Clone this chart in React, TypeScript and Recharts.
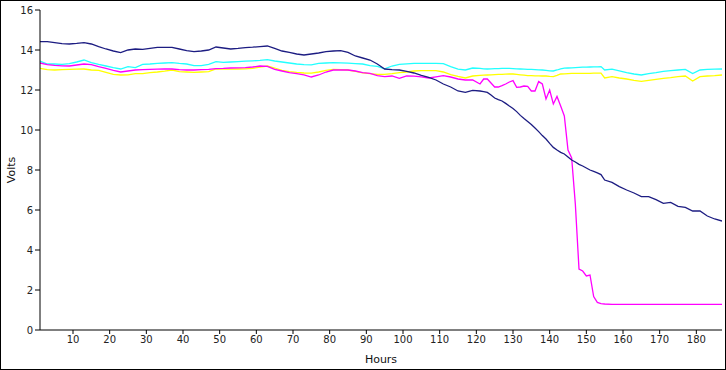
import { Line, LineChart, XAxis, YAxis } from "recharts";

const hours = [
  1, 3, 5, 7, 9, 11, 13, 15, 17, 19, 21, 23, 25, 27, 29, 31, 33, 35, 37, 39,
  41, 43, 45, 47, 49, 51, 53, 55, 57, 59, 61, 63, 65, 67, 69, 71, 73, 75, 77, 79,
  81, 83, 85, 87, 89, 91, 93, 95, 97, 99, 101, 103, 105, 107, 109, 111, 113, 115, 117, 119,
  121, 122, 123, 124, 125, 126, 127, 128, 129, 130, 131, 132, 133, 134, 135, 136, 137, 138,
  139, 140, 141, 142, 143, 144, 145, 146, 147, 148, 149, 150, 151, 152, 153, 154, 155,
  157, 159, 161, 163, 165, 167, 169, 171, 173, 175, 177, 179, 181, 183, 185, 187
];

const battery1 = [
  14.42, 14.42, 14.37, 14.32, 14.3, 14.33, 14.37, 14.3, 14.17, 14.05,
  13.95, 13.87, 14.0, 14.05, 14.03, 14.08, 14.13, 14.13, 14.13, 14.05,
  13.97, 13.92, 13.95, 14.0, 14.15, 14.1, 14.05, 14.08, 14.12, 14.14,
  14.17, 14.2, 14.08, 13.95, 13.88, 13.8, 13.75, 13.8, 13.85, 13.92,
  13.95, 13.97, 13.88, 13.7, 13.6, 13.5, 13.3, 13.05, 13.02, 13.0,
  12.93, 12.85, 12.73, 12.63, 12.5, 12.3, 12.15, 11.95, 11.88, 11.98,
  11.95, 11.92, 11.88, 11.75, 11.6, 11.52, 11.45, 11.33, 11.2, 11.08,
  10.92, 10.73, 10.57, 10.42, 10.27, 10.1, 9.92, 9.72, 9.55, 9.33,
  9.13, 9.0, 8.88, 8.8, 8.65, 8.5, 8.4, 8.28, 8.2, 8.1,
  8.0, 7.93, 7.86, 7.77, 7.5,
  7.38, 7.17, 7.0, 6.85, 6.67, 6.67, 6.52, 6.33, 6.38, 6.18, 6.13, 5.95, 5.95, 5.7, 5.55, 5.45
];

const battery2 = [
  13.45, 13.3, 13.3, 13.28, 13.32, 13.4, 13.5, 13.37, 13.28, 13.2,
  13.12, 13.05, 13.17, 13.12, 13.28, 13.3, 13.33, 13.35, 13.37, 13.33,
  13.3, 13.22, 13.22, 13.28, 13.42, 13.38, 13.4, 13.42, 13.44, 13.46,
  13.48, 13.52, 13.45, 13.4, 13.35, 13.3, 13.27, 13.26, 13.33, 13.35,
  13.37, 13.36, 13.34, 13.32, 13.3, 13.22, 13.18, 13.06, 13.2, 13.28,
  13.31, 13.33, 13.33, 13.33, 13.33, 13.32, 13.17, 13.04, 13.0, 13.1,
  13.08, 13.06, 13.05, 13.06, 13.07, 13.07, 13.08, 13.08, 13.08, 13.07,
  13.06, 13.05, 13.04, 13.03, 13.03, 13.02, 13.01, 13.0, 12.98, 12.96,
  12.95, 13.0, 13.06, 13.09, 13.1, 13.11, 13.12, 13.13, 13.14, 13.14,
  13.15, 13.16, 13.16, 13.17, 13.0,
  13.04, 12.96, 12.87, 12.8, 12.75, 12.82, 12.87, 12.93, 12.97, 13.0, 13.03, 12.82, 13.0, 13.03, 13.04, 13.05
];

const battery3 = [
  13.08, 13.02, 13.0, 13.02, 13.03, 13.04, 13.05, 13.0, 12.98, 12.88,
  12.78, 12.75, 12.76, 12.82, 12.82, 12.87, 12.9, 12.94, 13.0, 12.92,
  12.9, 12.88, 12.9, 12.92, 13.05, 13.04, 13.04, 13.05, 13.06, 13.08,
  13.14, 13.2, 13.1, 12.98, 12.92, 12.88, 12.85, 12.84, 12.9, 12.98,
  13.03, 13.02, 13.0, 12.93, 12.86, 12.82, 12.78, 12.78, 12.82, 12.87,
  12.9, 12.95, 12.97, 12.97, 12.97, 12.9, 12.77, 12.68, 12.6, 12.7,
  12.73, 12.74, 12.75, 12.76, 12.77, 12.78, 12.78, 12.79, 12.8, 12.8,
  12.78, 12.76, 12.74, 12.72, 12.72, 12.71, 12.71, 12.7, 12.7, 12.68,
  12.67, 12.73, 12.8, 12.81, 12.82, 12.83, 12.83, 12.83, 12.83, 12.83,
  12.83, 12.84, 12.84, 12.84, 12.6,
  12.67, 12.6, 12.55, 12.48, 12.43, 12.48, 12.53, 12.58, 12.62, 12.67, 12.7, 12.45, 12.67, 12.7, 12.72, 12.75
];

const battery4 = [
  13.35, 13.27, 13.23, 13.21, 13.2, 13.25, 13.3, 13.27, 13.17, 13.08,
  12.98, 12.9, 12.95, 13.0, 13.02, 13.03, 13.04, 13.05, 13.05, 13.02,
  13.0, 13.0, 13.02, 13.03, 13.07, 13.08, 13.1, 13.11, 13.12, 13.15,
  13.2, 13.18, 13.03, 12.95, 12.87, 12.82, 12.76, 12.65, 12.75, 12.9,
  13.0, 13.0, 13.0, 12.95, 12.87, 12.83, 12.72, 12.67, 12.7, 12.58,
  12.7, 12.69, 12.66, 12.6, 12.66, 12.72, 12.65, 12.55, 12.5, 12.5,
  12.3, 12.55, 12.55, 12.35, 12.15, 12.15, 12.22, 12.3, 12.4, 12.47,
  12.13, 12.15, 12.2, 12.18, 11.95, 11.95, 12.42, 12.3, 11.55, 12.0,
  11.3, 11.68, 11.2, 10.7, 9.0, 8.6, 6.3, 3.05, 2.95, 2.7,
  2.75, 1.67, 1.38, 1.32, 1.3,
  1.28, 1.28, 1.28, 1.28, 1.28, 1.28, 1.28, 1.28, 1.28, 1.28, 1.28, 1.28, 1.28, 1.28, 1.28, 1.28
];

const xTicks = [10, 20, 30, 40, 50, 60, 70, 80, 90, 100, 110, 120, 130, 140, 150, 160, 170, 180];
const yTicks = [0, 2, 4, 6, 8, 10, 12, 14, 16];

const data = hours.map((h, i) => ({
  h,
  b1: battery1[i],
  b2: battery2[i],
  b3: battery3[i],
  b4: battery4[i]
}));

const tickStyle = { fontFamily: "DejaVu Sans", fontSize: 10, fill: "#222" };

export default function App() {
  return (
    <div
      style={{
        position: "absolute",
        left: 0,
        top: 0,
        width: 724,
        height: 368,
        border: "1px solid #000",
        background: "#fff"
      }}
    >
      <LineChart width={724} height={368} data={data} margin={{ top: 9, right: 3, left: 0, bottom: 0 }}>
        <XAxis
          dataKey="h"
          type="number"
          domain={[1, 187]}
          ticks={xTicks}
          allowDataOverflow
          height={39}
          tickSize={4}
          tickMargin={2}
          tick={tickStyle}
          axisLine={{ stroke: "#000" }}
          tickLine={{ stroke: "#000" }}
          label={{
            value: "Hours",
            position: "insideBottom",
            offset: 6,
            style: { fontFamily: "DejaVu Sans", fontSize: 11, fill: "#111" }
          }}
        />
        <YAxis
          type="number"
          domain={[0, 16]}
          ticks={yTicks}
          width={39}
          tickSize={5}
          tickMargin={2}
          tick={tickStyle}
          axisLine={{ stroke: "#000" }}
          tickLine={{ stroke: "#000" }}
          label={{
            content: () => (
              <text
                x={11}
                y={169}
                transform="rotate(-90 11 169)"
                textAnchor="middle"
                dominantBaseline="middle"
                style={{ fontFamily: "DejaVu Sans", fontSize: 11, fill: "#111" }}
              >
                Volts
              </text>
            )
          }}
        />
        <Line type="linear" dataKey="b2" stroke="#22ffff" strokeWidth={1.3} dot={false} isAnimationActive={false} />
        <Line type="linear" dataKey="b3" stroke="#ffff00" strokeWidth={1.3} dot={false} isAnimationActive={false} />
        <Line type="linear" dataKey="b4" stroke="#ff00ff" strokeWidth={1.3} dot={false} isAnimationActive={false} />
        <Line type="linear" dataKey="b1" stroke="#1c1c82" strokeWidth={1.3} dot={false} isAnimationActive={false} />
      </LineChart>
    </div>
  );
}
